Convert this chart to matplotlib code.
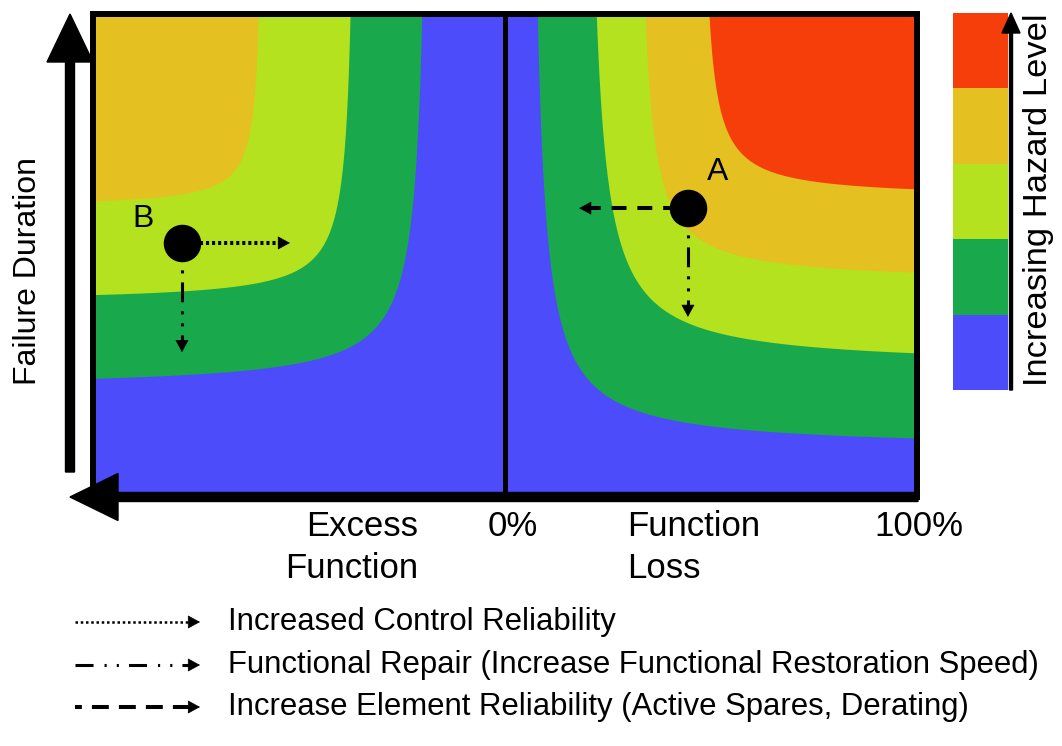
import numpy as np
import matplotlib.pyplot as plt

plt.rcParams['font.family'] = ['Liberation Sans', 'DejaVu Sans']

W, H = 1062, 746

# hazard bands, lowest to highest
band_colors = ['#4c4cfb', '#1aa84c', '#b4e21e', '#e4c020', '#f63e0a']

# band boundaries as hyperbolas (u - a) * (v - b) = k
# u = distance from 0% (fraction of half width), v = failure duration
loss_a = [0.055, 0.19, 0.315, 0.47]
loss_b = [0.10, 0.27, 0.445, 0.62]
loss_k = [0.021, 0.023, 0.014, 0.0095]
excess_a = [0.18, 0.36, 0.585]
excess_b = [0.225, 0.404, 0.60]
excess_k = [0.017, 0.0096, 0.0055]

# operating points (x < 0 is excess function, x > 0 is function loss)
point_names = ['A', 'B']
point_x = [0.444, -0.784]
point_y = [0.598, 0.526]
horiz_end = [0.180, -0.522]
vert_end = [0.373, 0.300]
label_x = [0.515, -0.879]
label_y = [0.673, 0.576]

legend_labels = [
    'Increased Control Reliability',
    'Functional Repair (Increase Functional Restoration Speed)',
    'Increase Element Reliability (Active Spares, Derating)',
]

dotted = (0, (0.75, 0.75))
dash_dot = (10.5, (6.5, 2.95, 1, 2.95, 1, 2.95))
dashed = (2.0, (3.7, 2.7))


def px_rect(x0, y0, x1, y1):
    return [x0 / W, 1 - y1 / H, (x1 - x0) / W, (y1 - y0) / H]


def styled_arrow(axis, start, tip, ls, lw, sx, sy, head_px=11, ms=12):
    # dashed shaft and solid head; sx, sy = pixels per data unit
    dx = (tip[0] - start[0]) * sx
    dy = (tip[1] - start[1]) * sy
    n = np.hypot(dx, dy)
    base = (tip[0] - dx / n * head_px / sx, tip[1] - dy / n * head_px / sy)
    axis.plot([start[0], base[0]], [start[1], base[1]], color='black',
              lw=lw, linestyle=ls, solid_capstyle='butt', zorder=4)
    axis.annotate('', xy=tip, xytext=base,
                  arrowprops=dict(arrowstyle='-|>,head_length=%.2f,head_width=0.36'
                                  % (head_px * 0.72 / ms),
                                  lw=0.5, color='black', mutation_scale=ms,
                                  shrinkA=0, shrinkB=0), zorder=4)


fig = plt.figure(figsize=(W / 100, H / 100), dpi=100)

# ---- main hazard map
ax = fig.add_axes(px_rect(93, 14, 917, 497))
ax.set_facecolor(band_colors[0])
for sign, a_list, b_list, k_list in [(1, loss_a, loss_b, loss_k),
                                      (-1, excess_a, excess_b, excess_k)]:
    for i, (a, b, k) in enumerate(zip(a_list, b_list, k_list)):
        u = np.linspace(a + 1e-4, 1.0, 3000)
        v = np.minimum(b + k / (u - a), 1.1)
        ax.fill_between(sign * u, v, 1.1, color=band_colors[i + 1], lw=0)

ax.axvline(0, color='black', lw=3.6)
ax.set_xlim(-1, 1)
ax.set_ylim(0, 1)
ax.set_xticks([])
ax.set_yticks([])
for s in ax.spines.values():
    s.set_linewidth(4.3)

SX, SY = 412, 483   # pixels per data unit in the map
R = 18              # point radius in pixels
horiz_styles = [dashed, dotted]
for j, (px, py, hx, vy) in enumerate(zip(point_x, point_y, horiz_end, vert_end)):
    sgn = 1 if hx > px else -1
    styled_arrow(ax, (px + sgn * R / SX, py), (hx, py), horiz_styles[j], 2.9,
                 SX, SY)
    styled_arrow(ax, (px, py - R / SY), (px, vy), dash_dot, 2.2, SX, SY)
ax.plot(point_x, point_y, 'o', ms=26, color='black', zorder=6)
for name, lx, ly in zip(point_names, label_x, label_y):
    ax.text(lx, ly, name, fontsize=23, ha='center', va='center', zorder=6)

# ---- hazard scale
cb = fig.add_axes(px_rect(953, 13, 1008, 390))
cb.bar(np.zeros(5), np.ones(5), bottom=np.arange(5), width=1,
       color=band_colors)
cb.set_xlim(-0.5, 0.5)
cb.set_ylim(0, 5)
cb.axis('off')

# ---- overlay in pixel coordinates
ov = fig.add_axes([0, 0, 1, 1])
ov.set_xlim(0, W)
ov.set_ylim(H, 0)
ov.axis('off')

ov.arrow(70, 472, 0, 14 - 472, width=9, head_width=46, head_length=48,
         length_includes_head=True, color='black')
ov.arrow(918, 497, 70 - 918, 0, width=9, head_width=47, head_length=48,
         length_includes_head=True, color='black')
ov.arrow(1011, 390, 0, 13 - 390, width=3, head_width=18, head_length=20,
         length_includes_head=True, color='black')

ov.text(28, 271, 'Failure Duration', fontsize=23, rotation=90,
        ha='center', va='center')
ov.text(1038, 200, 'Increasing Hazard Level', fontsize=24.8, rotation=90,
        ha='center', va='center')
ov.text(418, 526, 'Excess', fontsize=25, ha='right', va='center')
ov.text(418, 568, 'Function', fontsize=25, ha='right', va='center')
ov.text(513, 526, '0%', fontsize=25, ha='center', va='center')
ov.text(627, 526, 'Function', fontsize=25, ha='left', va='center')
ov.text(627, 568, 'Loss', fontsize=25, ha='left', va='center')
ov.text(919, 526, '100%', fontsize=25, ha='center', va='center')

legend_styles = [((0, (1.0, 1.1)), 1.8),
                 ((0, (5.9, 3.6, 0.7, 3.3, 0.7, 3.3)), 2.2),
                 ((2.5, (4.2, 2.5)), 2.9)]
legend_y = [622, 665, 707]
for (ls, lw), y, lab in zip(legend_styles, legend_y, legend_labels):
    styled_arrow(ov, (75, y), (200, y), ls, lw, 1, -1, head_px=11, ms=12)
    ov.text(228, y, lab, fontsize=22.4, ha='left', va='center')

fig.savefig('out.png', dpi=100)
